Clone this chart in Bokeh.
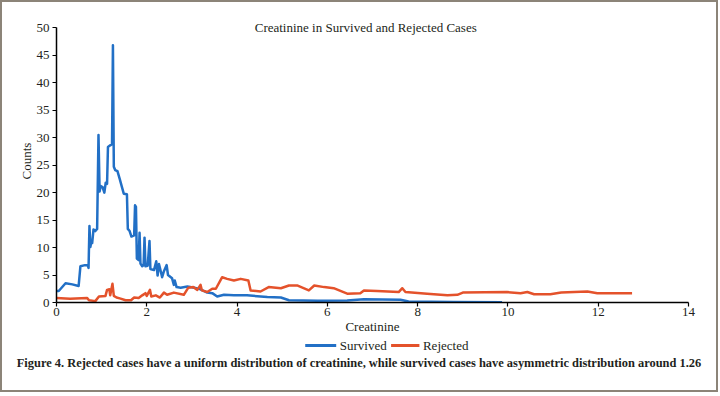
from bokeh.plotting import figure
from bokeh.layouts import column
from bokeh.models import Label, Range1d, FixedTicker, Div
from bokeh.core.properties import value
from bokeh.embed import file_html
from bokeh.resources import INLINE

survived_x = [0.0, 0.05, 0.2, 0.35, 0.49, 0.53, 0.63, 0.69, 0.71, 0.73, 0.75, 0.77, 0.79, 0.82, 0.86, 0.90,
              0.93, 0.955, 0.98, 1.02, 1.06, 1.09, 1.12, 1.14, 1.19, 1.23, 1.25, 1.27, 1.30, 1.35, 1.40, 1.45,
              1.49, 1.56, 1.58, 1.62, 1.66, 1.72, 1.74, 1.76, 1.78, 1.82, 1.84, 1.86, 1.90, 1.93, 1.95, 1.97,
              2.02, 2.06, 2.08, 2.16, 2.21, 2.24, 2.27, 2.30, 2.34, 2.38, 2.44, 2.47, 2.56, 2.60, 2.62, 2.66,
              2.75, 2.9, 3.05, 3.19, 3.34, 3.45, 3.56, 3.71, 3.93, 4.22, 4.67, 4.97, 5.15, 5.78, 6.44, 6.81,
              7.62, 7.8, 8.8, 9.87]
survived_y = [2.1, 2.1, 3.5, 3.3, 3.0, 6.6, 6.8, 6.8, 6.3, 13.9, 10.1, 11.0, 10.8, 13.3, 13.0, 13.4,
              30.5, 20.2, 21.2, 21.0, 20.0, 21.8, 21.6, 28.3, 28.6, 28.8, 46.8, 24.7, 24.1, 23.9, 22.5, 21.0,
              19.8, 19.7, 13.4, 13.0, 12.0, 12.2, 17.7, 17.4, 8.0, 7.7, 12.7, 7.1, 6.6, 6.8, 11.8, 6.6,
              6.7, 11.2, 6.1, 5.9, 7.5, 4.9, 7.0, 6.0, 4.6, 5.7, 6.8, 5.0, 4.4, 3.2, 4.0, 2.8,
              2.7, 2.9, 2.7, 2.4, 1.8, 1.7, 1.1, 1.4, 1.3, 1.3, 1.0, 0.9, 0.4, 0.3, 0.36, 0.6,
              0.5, 0.2, 0.1, 0.05]

rejected_x = [0.0, 0.3, 0.68, 0.72, 0.86, 0.94, 1.085, 1.12, 1.17, 1.19, 1.24, 1.27, 1.33, 1.42, 1.53, 1.65,
              1.72, 1.82, 1.90, 1.97, 2.0, 2.07, 2.10, 2.20, 2.29, 2.38, 2.45, 2.60, 2.82, 2.92, 3.03, 3.12,
              3.19, 3.22, 3.34, 3.45, 3.53, 3.67, 3.78, 3.93, 4.08, 4.25, 4.30, 4.52, 4.70, 4.97, 5.15, 5.33,
              5.59, 5.71, 5.93, 6.14, 6.44, 6.73, 6.81, 7.10, 7.58, 7.66, 7.73, 8.21, 8.66, 8.88, 9.0, 9.98,
              10.28, 10.43, 10.58, 10.94, 11.18, 11.76, 11.98, 12.75]
rejected_y = [0.8, 0.7, 0.8, 0.4, 0.25, 1.1, 1.2, 2.3, 2.4, 1.3, 3.4, 1.2, 0.9, 0.7, 0.4, 0.4,
              0.9, 0.8, 1.3, 1.7, 1.2, 2.3, 1.1, 1.3, 0.9, 1.8, 1.4, 1.8, 1.4, 2.7, 2.8, 2.3,
              3.2, 2.2, 1.9, 2.5, 2.5, 4.6, 4.3, 4.0, 4.3, 4.0, 2.2, 2.0, 2.8, 2.6, 3.1, 3.1,
              2.2, 3.1, 2.8, 2.6, 1.6, 1.7, 2.2, 2.1, 1.9, 2.6, 1.9, 1.6, 1.3, 1.4, 1.8, 1.9,
              1.7, 1.9, 1.5, 1.5, 1.8, 2.0, 1.7, 1.7]

x_ticks = [0, 2, 4, 6, 8, 10, 12, 14]
y_ticks = [0, 5, 10, 15, 20, 25, 30, 35, 40, 45, 50]

legend_labels = ["Survived", "Rejected"]
title_text = "Creatinine in Survived and Rejected Cases"
caption_text = ("Figure 4. Rejected cases have a uniform distribution of creatinine, "
                "while survived cases have asymmetric distribution around 1.26")

FONT = "Liberation Serif"
TXT = "#231f20"
BLUE = "#2270c6"
RED = "#e4522b"
colors = [BLUE, RED]

# ---- main chart ----
p = figure(width=714, height=334, output_backend="svg", toolbar_location=None,
           x_range=Range1d(0, 14), y_range=Range1d(0, 51.5),
           min_border_left=54, min_border_right=28, min_border_top=17, min_border_bottom=34)
p.frame_width = 632
p.frame_height = 283
p.grid.visible = False
p.outline_line_color = None

for ax in (p.xaxis[0], p.yaxis[0]):
    ax.axis_line_color = "black"
    ax.axis_line_width = 1.5
    ax.major_tick_line_color = "black"
    ax.major_tick_line_width = 1.2
    ax.major_tick_out = 4
    ax.major_tick_in = 0
    ax.minor_tick_line_color = None
    ax.major_label_text_font = FONT
    ax.major_label_text_font_size = "13px"
    ax.major_label_text_color = TXT
    ax.axis_label_text_font = FONT
    ax.axis_label_text_font_size = "13px"
    ax.axis_label_text_font_style = "normal"
    ax.axis_label_text_color = TXT

p.xaxis[0].ticker = FixedTicker(ticks=x_ticks)
p.yaxis[0].ticker = FixedTicker(ticks=y_ticks)
p.yaxis[0].bounds = (0, 50)
p.xaxis[0].axis_label = "Creatinine"
p.yaxis[0].axis_label = "Counts"
p.xaxis[0].major_label_standoff = 1
p.xaxis[0].axis_label_standoff = 0
p.yaxis[0].major_label_standoff = 3
p.yaxis[0].axis_label_standoff = 0

p.line(survived_x, survived_y, line_color=BLUE, line_width=2.5, line_join="round")
p.line(rejected_x, rejected_y, line_color=RED, line_width=2.5, line_join="round")

p.add_layout(Label(x=6.85, y=50, text=title_text, text_font=FONT, text_font_size="13px",
                   text_color=TXT, text_align="center", text_baseline="middle"))

# ---- legend strip ----
q = figure(width=714, height=18, output_backend="svg", toolbar_location=None,
           x_range=Range1d(0, 714), y_range=Range1d(18, 0),
           x_axis_location=None, y_axis_location=None, min_border=0)
q.grid.visible = False
q.outline_line_color = None
q.segment(x0=[281, 378], y0=[9, 9], x1=[316, 410], y1=[9, 9], line_color=colors, line_width=3)
q.text(x=[320, 414], y=[9, 9], text=legend_labels, text_font=value(FONT), text_font_size="13px",
       text_color=TXT, text_align="left", text_baseline="middle")

# ---- caption ----
cap = Div(text=('<span style="display:inline-block;position:relative;left:357px;'
                'transform:translateX(-50%) scaleX(0.92);white-space:nowrap;">'
                + caption_text + '</span>'),
          width=714, height=36,
          styles={"margin": "0", "padding-top": "1px", "text-align": "left",
                  "font-family": FONT, "font-size": "13.5px", "font-weight": "bold",
                  "color": TXT, "line-height": "15px", "overflow": "visible"})

layout = column(p, q, cap, spacing=0, styles={"border": "2px solid #8c8478"})

open("out.html", "w").write(file_html(layout, INLINE))
